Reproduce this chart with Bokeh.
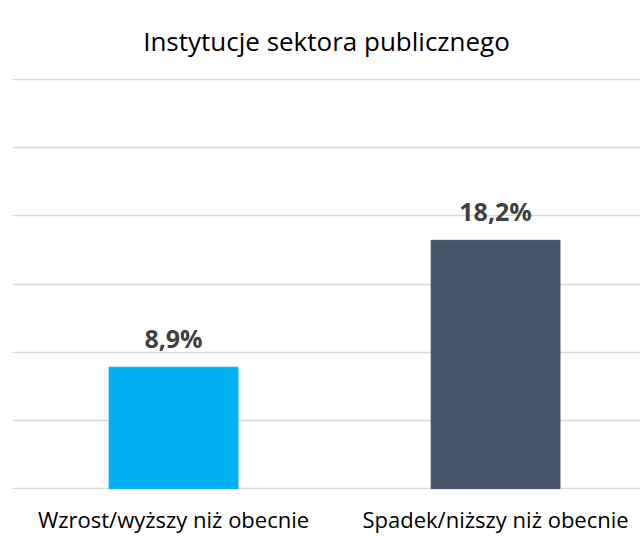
from bokeh.plotting import figure
from bokeh.models import Range1d, FixedTicker, ColumnDataSource
from bokeh.core.properties import value
from bokeh.embed import file_html
from bokeh.resources import INLINE

title_text = "Instytucje sektora publicznego"
categories = ["Wzrost/wyższy niż obecnie", "Spadek/niższy niż obecnie"]
values = [8.9, 18.2]
labels = ["8,9%", "18,2%"]
colors = ["#00B0F0", "#44546A"]
y_ticks = [0, 5, 10, 15, 20, 25, 30]

xs = [i + 0.5 for i in range(len(categories))]
src = ColumnDataSource(dict(x=xs, top=values, color=colors, label=labels))

p = figure(width=640, height=536, output_backend="svg", toolbar_location=None,
           x_range=Range1d(0, 1.95), y_range=Range1d(-0.06, 30.06),
           min_border_left=12, min_border_right=0, min_border_top=0, min_border_bottom=0)
p.outline_line_color = None
p.background_fill_color = "white"
p.border_fill_color = "white"

p.title.text = title_text
p.title.align = "center"
p.title.text_font = "Open Sans"
p.title.text_font_size = "26px"
p.title.text_font_style = "normal"
p.title.text_color = "#000000"
p.title.offset = 0
p.title.standoff = 40

p.vbar(x="x", top="top", bottom=0, width=0.4, color="color", source=src)
p.text(x="x", y="top", text="label", source=src, text_align="center",
       text_baseline="alphabetic", y_offset=-29, text_font=value("Open Sans"),
       text_font_size="25px", text_font_style="bold", text_color="#404040")

p.yaxis.visible = False
p.ygrid.ticker = FixedTicker(ticks=y_ticks)
p.ygrid.grid_line_color = "#d9d9d9"
p.ygrid.grid_line_width = 1.5
p.xgrid.visible = False

p.xaxis.ticker = FixedTicker(ticks=xs)
p.xaxis.major_label_overrides = {x: c for x, c in zip(xs, categories)}
p.xaxis.axis_line_color = None
p.xaxis.major_tick_line_color = None
p.xaxis.minor_tick_line_color = None
p.xaxis.major_tick_out = 0
p.xaxis.major_tick_in = 0
p.xaxis.major_label_standoff = 14
p.xaxis.major_label_text_font = "Open Sans"
p.xaxis.major_label_text_font_size = "22px"
p.xaxis.major_label_text_color = "#000000"

open("out.html", "w").write(file_html(p, INLINE))
